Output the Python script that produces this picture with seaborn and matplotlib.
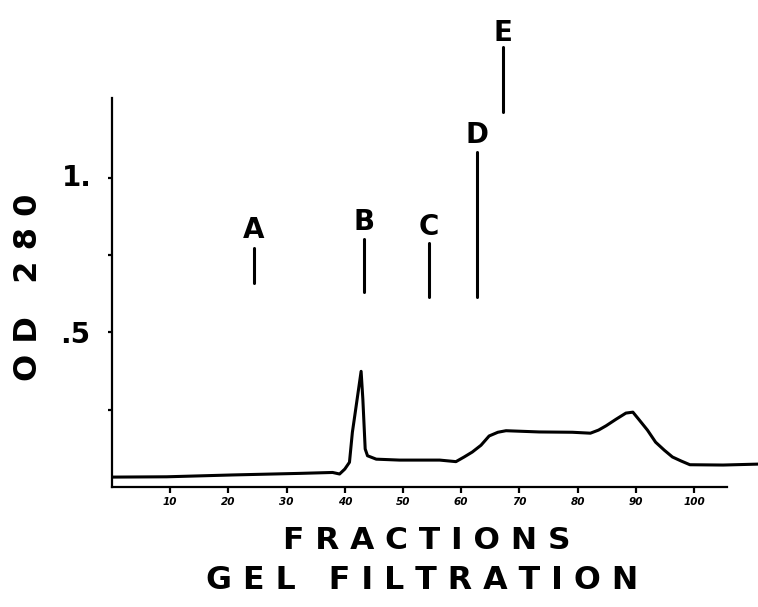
import pandas as pd
import seaborn as sns
import matplotlib.pyplot as plt
import numpy as np

# elution profile
fraction = [0, 9.4, 20.8, 32.2, 37.9, 39.1, 40.0, 40.8, 41.3, 41.7, 42.8, 43.1, 43.5,
            43.9, 45.4, 49.4, 56.3, 59.1, 60.5, 61.9, 63.4, 64.8, 66.3, 67.7, 73.4,
            79.1, 82.2, 83.6, 84.9, 86.6, 88.3, 89.5, 90.5, 92.0, 93.4, 94.9, 96.3,
            97.8, 99.3, 105, 111]
od280 = [0.032, 0.033, 0.039, 0.044, 0.047, 0.042, 0.058, 0.080, 0.177, 0.229, 0.374,
         0.284, 0.123, 0.101, 0.090, 0.087, 0.087, 0.082, 0.097, 0.113, 0.135, 0.165,
         0.177, 0.182, 0.178, 0.177, 0.174, 0.184, 0.198, 0.219, 0.239, 0.242, 0.219,
         0.184, 0.145, 0.119, 0.097, 0.084, 0.072, 0.071, 0.074]

# marker standards A-E
marker_labels = ['A', 'B', 'C', 'D', 'E']
marker_x = [24.4, 43.3, 54.5, 62.8, 67.2]
marker_top = [0.774, 0.803, 0.790, 1.084, 1.423]
marker_bottom = [0.661, 0.632, 0.616, 0.616, 1.213]
label_y = [0.832, 0.858, 0.842, 1.139, 1.468]

x_ticks = [10, 20, 30, 40, 50, 60, 70, 80, 90, 100]
y_ticks = [0.25, 0.5, 0.75, 1.0]

df = pd.DataFrame({'fraction': fraction, 'od': od280})

sns.set_style('white', {'axes.edgecolor': 'black', 'xtick.color': 'black',
                        'ytick.color': 'black', 'text.color': 'black'})
plt.rcParams['font.family'] = ['DejaVu Sans']
plt.rcParams['text.color'] = 'black'

fig = plt.figure(figsize=(7.58, 6.07), dpi=100)
ax = fig.add_axes([0.1478, 0.1977, 0.8522, 0.6409])

sns.lineplot(data=df, x='fraction', y='od', color='black', linewidth=2.2, ax=ax)

for lab, x, top, bot, ly in zip(marker_labels, marker_x, marker_top, marker_bottom, label_y):
    ax.plot([x, x], [bot, top], color='black', linewidth=2.2, clip_on=False)
    ax.text(x, ly, lab, ha='center', va='center', fontsize=20, fontweight='bold', clip_on=False)

ax.set_xlim(0, 111)
ax.set_ylim(0, 1.258)
for s in ['top', 'right']:
    ax.spines[s].set_visible(False)
ax.spines['bottom'].set_bounds(0, 105.6)
ax.spines['left'].set_linewidth(1.6)
ax.spines['bottom'].set_linewidth(1.6)

ax.set_xticks(x_ticks)
ax.set_xticklabels([str(t) for t in x_ticks], fontsize=7.5, fontstyle='italic', fontweight='bold')
ax.tick_params(axis='x', direction='out', length=4, width=1.6, pad=3, bottom=True)
ax.set_yticks(y_ticks)
ax.set_yticklabels([])
ax.tick_params(axis='y', direction='out', length=3, width=1.6, left=True)

# y tick labels sit at different distances from the axis in the original
yaxis_tr = ax.get_yaxis_transform()
ax.text(-0.031, 1.0, '1.', transform=yaxis_tr, ha='right', va='center',
        fontsize=20, fontweight='bold')
ax.text(-0.034, 0.49, '.5', transform=yaxis_tr, ha='right', va='center',
        fontsize=20, fontweight='bold')

ax.set_xlabel('')
ax.set_ylabel('')
fig.text(0.037, 0.527, 'O D   2 8 0', rotation=90, ha='center', va='center',
         fontsize=23, fontweight='bold')
fig.text(0.563, 0.110, 'F R A C T I O N S', ha='center', va='center',
         fontsize=22.5, fontweight='bold')
fig.text(0.557, 0.043, 'G E L   F I L T R A T I O N', ha='center', va='center',
         fontsize=22.8, fontweight='bold')

plt.savefig('out.png', dpi=100)
